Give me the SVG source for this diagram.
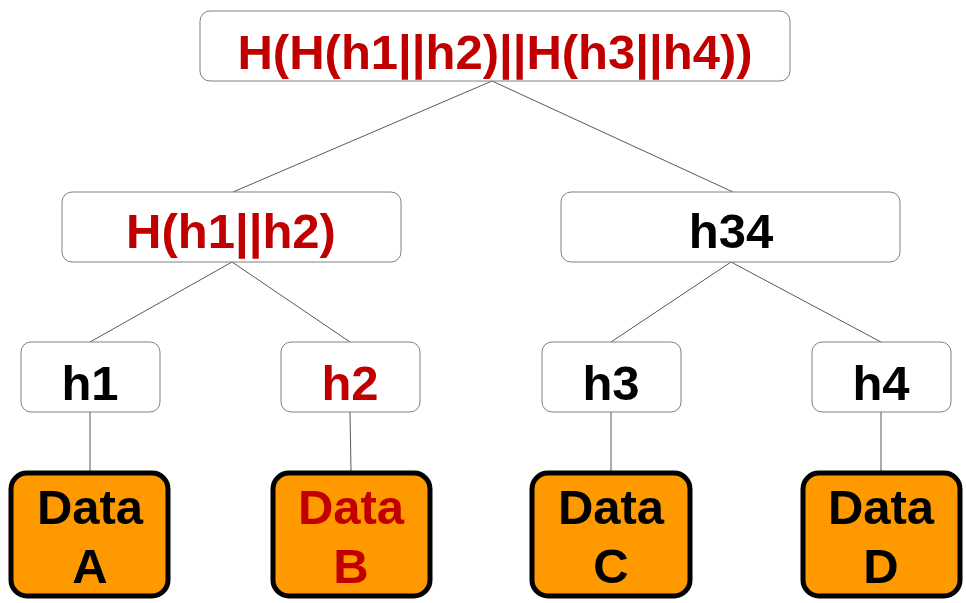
<svg xmlns="http://www.w3.org/2000/svg" width="966" height="603" viewBox="0 0 966 603">
<style>
.box{fill:#ffffff;stroke:#808080;stroke-width:1}
.data{fill:#ff9900;stroke:#000000;stroke-width:5}
.t{font-family:"Liberation Sans",Arial,sans-serif;font-weight:bold;font-size:49px;text-anchor:middle}
.red{fill:#c00000}
.blk{fill:#000000}
.c{stroke:#595959;stroke-width:1;fill:none}
</style>
<rect width="966" height="603" fill="#ffffff"/>
<g id="connectors">
<line class="c" x1="492" y1="81" x2="233" y2="192"/>
<line class="c" x1="492" y1="81" x2="733" y2="192"/>
<line class="c" x1="232" y1="262" x2="90" y2="342"/>
<line class="c" x1="232" y1="262" x2="350" y2="342"/>
<line class="c" x1="731" y1="262" x2="611" y2="342"/>
<line class="c" x1="731" y1="262" x2="881" y2="342"/>
<line class="c" x1="90" y1="412" x2="90" y2="471"/>
<line class="c" x1="350" y1="412" x2="351" y2="471"/>
<line class="c" x1="611" y1="412" x2="611" y2="471"/>
<line class="c" x1="881" y1="412" x2="881" y2="471"/>
</g>
<g id="root">
<rect class="box" x="200" y="11" width="590" height="70" rx="10"/>
<text class="t red" x="495" y="69">H(H(h1||h2)||H(h3||h4))</text>
</g>
<g id="h12">
<rect class="box" x="62" y="192" width="339" height="70" rx="10"/>
<text class="t red" x="231" y="248">H(h1||h2)</text>
</g>
<g id="h34">
<rect class="box" x="561" y="192" width="339" height="70" rx="10"/>
<text class="t blk" x="731" y="248">h34</text>
</g>
<g id="h1">
<rect class="box" x="21" y="342" width="139" height="70" rx="10"/>
<text class="t blk" x="90" y="400">h1</text>
</g>
<g id="h2">
<rect class="box" x="281" y="342" width="139" height="70" rx="10"/>
<text class="t red" x="350" y="400">h2</text>
</g>
<g id="h3">
<rect class="box" x="542" y="342" width="139" height="70" rx="10"/>
<text class="t blk" x="611" y="400">h3</text>
</g>
<g id="h4">
<rect class="box" x="812" y="342" width="139" height="70" rx="10"/>
<text class="t blk" x="881" y="400">h4</text>
</g>
<g id="dataA">
<rect class="data" x="11" y="473" width="157" height="123" rx="16"/>
<text class="t blk" x="90" y="524">Data</text>
<text class="t blk" x="90" y="583">A</text>
</g>
<g id="dataB">
<rect class="data" x="273" y="473" width="157" height="123" rx="16"/>
<text class="t red" x="351" y="524">Data</text>
<text class="t red" x="351" y="583">B</text>
</g>
<g id="dataC">
<rect class="data" x="532" y="473" width="158" height="123" rx="16"/>
<text class="t blk" x="611" y="524">Data</text>
<text class="t blk" x="611" y="583">C</text>
</g>
<g id="dataD">
<rect class="data" x="803" y="473" width="157" height="123" rx="16"/>
<text class="t blk" x="881" y="524">Data</text>
<text class="t blk" x="881" y="583">D</text>
</g>
</svg>
